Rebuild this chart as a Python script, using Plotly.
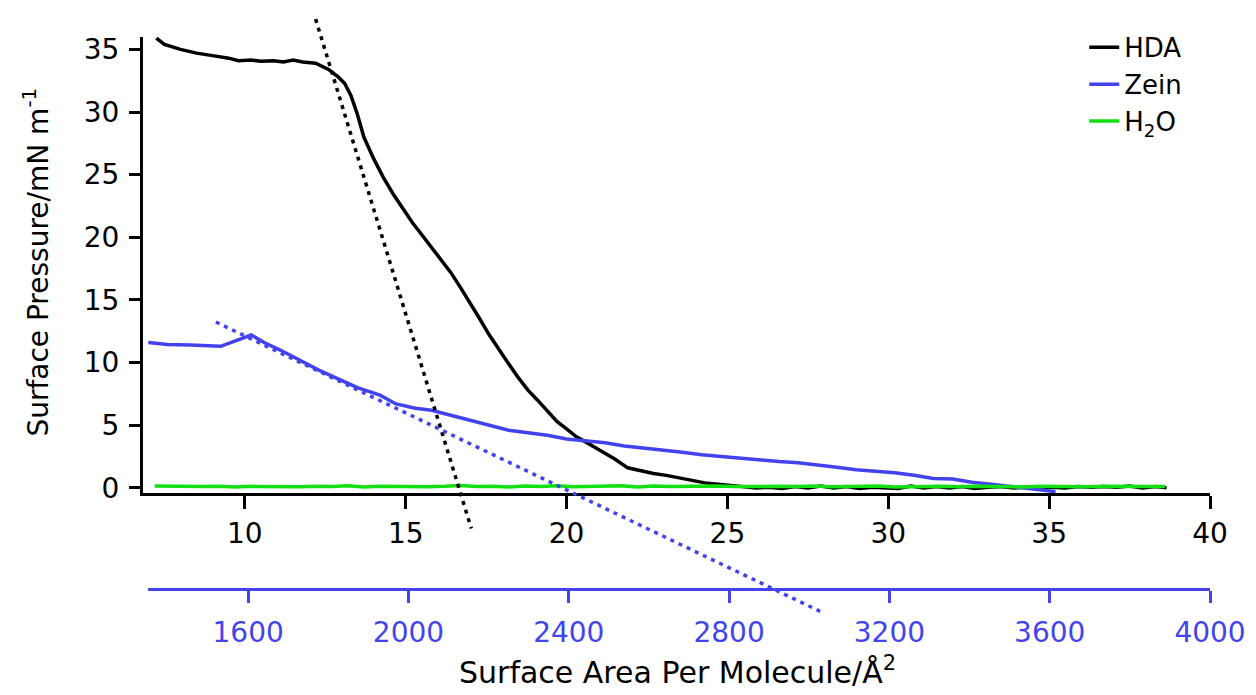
import plotly.graph_objects as go

# ---------------- data ----------------
hda_x = [7.25, 7.5, 8.0, 8.5, 9.0, 9.5, 9.8, 10.2, 10.5, 10.9, 11.2, 11.5, 11.8, 12.2, 12.6, 12.9,
         13.1, 13.3, 13.5, 13.7, 14.0, 14.3, 14.6, 14.9, 15.2, 15.5, 15.8, 16.1, 16.4, 16.7, 17.0,
         17.3, 17.6, 17.9, 18.2, 18.5, 18.8, 19.1, 19.4, 19.7, 20.0, 20.3, 20.7, 21.1, 21.5, 21.9,
         22.3, 22.7, 23.1, 23.5, 23.9, 24.3, 24.7, 25.1, 25.5, 25.9, 26.3, 26.7, 27.1, 27.5, 27.9,
         28.3, 28.7, 29.1, 29.5, 29.9, 30.3, 30.7, 31.1, 31.5, 31.9, 32.3, 32.7, 33.1, 33.5, 33.9,
         34.3, 34.7, 35.1, 35.5, 35.9, 36.3, 36.7, 37.1, 37.5, 37.9, 38.3, 38.65]
hda_y = [35.9, 35.4, 35.0, 34.7, 34.5, 34.3, 34.1, 34.15, 34.05, 34.1, 34.0, 34.15, 34.0, 33.9,
         33.4, 32.8, 32.3, 31.3, 29.8, 28.0, 26.3, 24.8, 23.5, 22.3, 21.2, 20.2, 19.2, 18.3, 17.2,
         16.0, 14.8, 13.5, 12.2, 11.0, 9.9, 8.8, 7.8, 7.0, 6.2, 5.3, 4.7, 4.1, 3.5, 2.9, 2.3, 1.6,
         1.35, 1.15, 1.0, 0.8, 0.6, 0.4, 0.3, 0.2, 0.1, 0.0, 0.05, -0.05, 0.1, 0.0, 0.15, 0.0,
         0.1, -0.05, 0.05, 0.0, -0.05, 0.15, 0.0, 0.1, 0.0, 0.1, -0.05, 0.05, 0.1, 0.0, 0.05, 0.0,
         0.05, 0.0, 0.1, 0.05, 0.1, 0.05, 0.15, 0.0, 0.1, 0.0]

zein_x = [7.0, 7.6, 8.3, 9.25, 10.2, 10.6, 11.1, 11.7, 12.3, 12.9, 13.5, 14.2, 14.7, 15.3, 15.8,
          16.4, 17.0, 17.6, 18.2, 18.8, 19.4, 20.0, 20.6, 21.2, 21.8, 22.4, 23.0, 23.6, 24.2,
          24.8, 25.4, 26.0, 26.6, 27.2, 27.8, 28.4, 29.0, 29.6, 30.2, 30.8, 31.4, 32.0, 32.6,
          33.2, 33.8, 34.4, 35.2]
zein_y = [11.6, 11.45, 11.4, 11.3, 12.2, 11.6, 11.0, 10.2, 9.4, 8.7, 8.0, 7.4, 6.7, 6.35, 6.2,
          5.8, 5.4, 5.0, 4.6, 4.4, 4.2, 3.9, 3.75, 3.6, 3.35, 3.2, 3.05, 2.85, 2.65, 2.5, 2.35,
          2.25, 2.1, 2.0, 1.85, 1.65, 1.45, 1.35, 1.2, 1.0, 0.75, 0.7, 0.45, 0.3, 0.1, -0.1, -0.3]

h2o_x = [7.2, 7.7, 8.2, 8.7, 9.2, 9.7, 10.2, 10.7, 11.2, 11.7, 12.2, 12.7, 13.2, 13.7, 14.2,
         14.7, 15.2, 15.7, 16.2, 16.7, 17.2, 17.7, 18.2, 18.7, 19.2, 19.7, 20.2, 20.7, 21.2,
         21.7, 22.2, 22.7, 23.2, 23.7, 24.2, 24.7, 25.2, 25.7, 26.2, 26.7, 27.2, 27.7, 28.2,
         28.7, 29.2, 29.7, 30.2, 30.7, 31.2, 31.7, 32.2, 32.7, 33.2, 33.7, 34.2, 34.7, 35.2,
         35.7, 36.2, 36.7, 37.2, 37.7, 38.2, 38.6]
h2o_y = [0.15, 0.12, 0.14, 0.1, 0.13, 0.08, 0.12, 0.1, 0.14, 0.09, 0.12, 0.1, 0.16, 0.08, 0.12,
         0.1, 0.14, 0.09, 0.12, 0.18, 0.1, 0.13, 0.08, 0.14, 0.1, 0.16, 0.09, 0.13, 0.1, 0.17,
         0.08, 0.14, 0.1, 0.12, 0.09, 0.15, 0.1, 0.12, 0.08, 0.13, 0.1, 0.15, 0.09, 0.12, 0.1,
         0.14, 0.08, 0.12, 0.1, 0.13, 0.09, 0.12, 0.1, 0.14, 0.08, 0.12, 0.1, 0.13, 0.09, 0.12,
         0.1, 0.14, 0.09, 0.1]

hda_tangent_x = [12.2, 17.04]
hda_tangent_y = [37.42, -3.25]
zein_tangent_x = [9.10, 28.0]
zein_tangent_y = [13.24, -10.0]

x_ticks = [10, 15, 20, 25, 30, 35, 40]
y_ticks = [0, 5, 10, 15, 20, 25, 30, 35]
x2_ticks = [1600, 2000, 2400, 2800, 3200, 3600, 4000]

# ---------------- geometry ----------------
W, H = 1256, 695
ML, MR, MT, MB = 143, 44, 10, 65
PAPER_TOP, PAPER_BOT = MT, H - MB            # 10, 630
AX_TOP, AX_BOT = 33, 492                       # main y-axis pixel extent
X_RANGE = [6.835, 40.0]
Y_RANGE = [-0.4, 36.0]
X2_RANGE = [1350, 4000]
X2_LEFT_PX = 148
BLUE_AXIS_PX = 589

ph = PAPER_BOT - PAPER_TOP
pw = W - ML - MR
ydom = [(PAPER_BOT - AX_BOT) / ph, (PAPER_BOT - AX_TOP) / ph]
ppu = (AX_BOT - AX_TOP) / (Y_RANGE[1] - Y_RANGE[0])
y3_range = [Y_RANGE[0] - (PAPER_BOT - AX_BOT) / ppu, Y_RANGE[1] + (AX_TOP - PAPER_TOP) / ppu]

BLACK = "#000000"
BLUE = "#4343EE"
GREEN = "#12E012"
FONT = "DejaVu Sans"

fig = go.Figure()
fig.add_trace(go.Scatter(x=hda_x, y=hda_y, mode="lines", name="HDA", legendgroup="a",
                         line=dict(color=BLACK, width=3.5)))
fig.add_trace(go.Scatter(x=zein_x, y=zein_y, mode="lines", name="Zein", legendgroup="b",
                         line=dict(color=BLUE, width=3.5)))
fig.add_trace(go.Scatter(x=h2o_x, y=h2o_y, mode="lines", name="H<sub>2</sub>O", legendgroup="c",
                         line=dict(color=GREEN, width=3.5)))
# tangent lines drawn in an overlay subplot with identical scaling but a larger area
fig.add_trace(go.Scatter(x=hda_tangent_x, y=hda_tangent_y, mode="lines", xaxis="x3", yaxis="y3",
                         showlegend=False, hoverinfo="skip",
                         line=dict(color=BLACK, width=3.5, dash="4px,5px")))
fig.add_trace(go.Scatter(x=zein_tangent_x, y=zein_tangent_y, mode="lines", xaxis="x3", yaxis="y3",
                         showlegend=False, hoverinfo="skip",
                         line=dict(color=BLUE, width=3.5, dash="4px,5px")))
# dummy trace so the secondary (blue) axis is drawn
fig.add_trace(go.Scatter(x=[x2_ticks[0]], y=[None], xaxis="x2", yaxis="y3", mode="lines",
                         showlegend=False, hoverinfo="skip"))

axis_common = dict(showgrid=False, zeroline=False, ticks="outside", tickwidth=2.5,
                   linewidth=3, showline=True, mirror=False)

fig.update_layout(
    width=W, height=H,
    margin=dict(l=ML, r=MR, t=MT, b=MB),
    paper_bgcolor="white", plot_bgcolor="rgba(0,0,0,0)",
    font=dict(family=FONT, color=BLACK, size=26),
    xaxis=dict(range=X_RANGE, domain=[0, 1], anchor="y", tickvals=x_ticks, ticklen=13,
               linecolor=BLACK, tickcolor=BLACK, tickfont=dict(size=28, color=BLACK),
               ticklabelstandoff=1, **axis_common),
    yaxis=dict(range=Y_RANGE, domain=ydom, anchor="x", tickvals=y_ticks, ticklen=11,
               linecolor=BLACK, tickcolor=BLACK, tickfont=dict(size=28, color=BLACK),
               ticklabelstandoff=4, **axis_common),
    xaxis2=dict(range=X2_RANGE, domain=[(X2_LEFT_PX - ML) / pw, 1], anchor="free",
                position=(PAPER_BOT - BLUE_AXIS_PX) / ph, tickvals=x2_ticks, ticklen=12,
                linecolor=BLUE, tickcolor=BLUE, tickfont=dict(size=28, color=BLUE),
                ticklabelstandoff=5, **axis_common),
    xaxis3=dict(range=X_RANGE, domain=[0, 1], anchor="y3", visible=False),
    yaxis3=dict(range=y3_range, domain=[0, 1], anchor="x3", visible=False),
    legend=dict(x=(1086 - ML) / pw, y=(PAPER_BOT - 20) / ph, xanchor="left", yanchor="top",
                font=dict(size=26, color=BLACK), bgcolor="rgba(0,0,0,0)",
                traceorder="grouped", tracegroupgap=0, itemwidth=30),
    annotations=[
        dict(text="Surface Area Per Molecule/Å<sup>2</sup>", xref="paper", yref="paper",
             x=(679 - ML) / pw, y=(PAPER_BOT - 671) / ph, xanchor="center", yanchor="middle",
             showarrow=False, font=dict(size=30, color=BLACK)),
        dict(text="Surface Pressure/mN m<sup>-1</sup>", xref="paper", yref="paper",
             x=(36 - ML) / pw, y=(PAPER_BOT - 260) / ph, xanchor="center", yanchor="middle",
             textangle=-90, showarrow=False, font=dict(size=28, color=BLACK)),
    ],
    showlegend=True,
)

fig.write_html("out.html")
